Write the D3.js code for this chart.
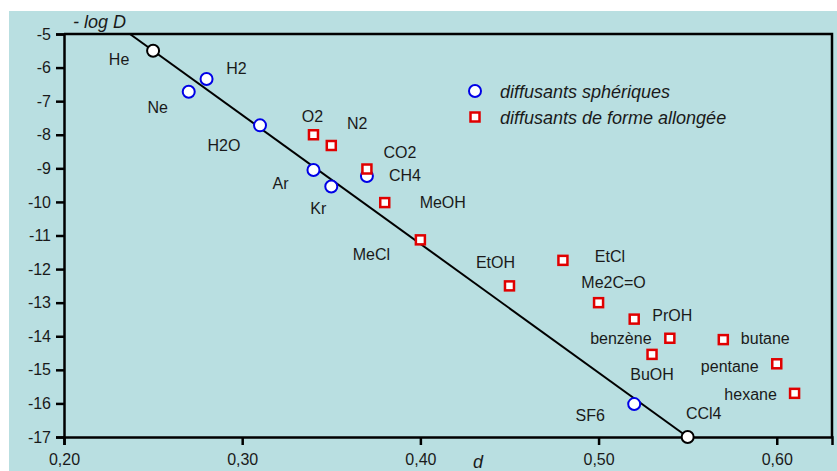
<!DOCTYPE html>
<html>
<head>
<meta charset="utf-8">
<script src="https://cdn.jsdelivr.net/npm/d3@7"></script>
<style>
  body { margin: 0; background: #fff; }
  text { font-family: "Liberation Sans", Arial, sans-serif; fill: #1a1a1a; }
</style>
</head>
<body>
<div id="chart"></div>
<script>
// spherical scatterers (blue circles)
var sphNames = ["H2", "Ne", "H2O", "Ar", "Kr", "CH4", "SF6"];
var sphD     = [0.28, 0.27, 0.31, 0.34, 0.35, 0.37, 0.52];
var sphLogD  = [-6.34, -6.72, -7.72, -9.05, -9.54, -9.23, -16.02];

// elongated scatterers (red squares)
var elNames = ["O2", "N2", "CO2", "MeOH", "MeCl", "EtOH", "EtCl", "Me2C=O", "PrOH",
               "benzène", "BuOH", "butane", "pentane", "hexane"];
var elD     = [0.34, 0.35, 0.37, 0.38, 0.40, 0.45, 0.48, 0.50, 0.52, 0.54, 0.53, 0.57, 0.60, 0.61];
var elLogD  = [-8.0, -8.32, -9.02, -10.02, -11.13, -12.5, -11.74, -13.0, -13.49,
               -14.06, -14.54, -14.1, -14.82, -15.7];

// reference points (black) and the straight line through them
var refNames = ["He", "CCl4"];
var refD     = [0.25, 0.55];
var refLogD  = [-5.5, -17];
var lineD    = [0.237, 0.55];
var lineLogD = [-5, -17];

var xTicks = [0.20, 0.30, 0.40, 0.50, 0.60];
var yTicks = [-5, -6, -7, -8, -9, -10, -11, -12, -13, -14, -15, -16, -17];

var legendLabels = ["diffusants sphériques", "diffusants de forme allongée"];

// label offsets in pixels from each mark (layout only)
var sphOff = [[30,-11],[-31,16],[-36,20],[-33,13],[-13,22],[38,-1],[-44,11]];
var elOff  = [[-1,-18],[26,-22],[33,-17],[58,0],[-49,15],[-14,-23],[47,-4],[15,-20],
              [38,-4],[-49,0],[0,20],[42,-1],[-47,3],[-44,1]];
var refOff = [[-34,9],[16,-24]];

var W = 837, H = 471;
var margin = {top: 34, right: 5, bottom: 34, left: 64};
var width = W - margin.left - margin.right,
    height = H - margin.top - margin.bottom;

var svg = d3.select("#chart").append("svg")
    .attr("width", W)
    .attr("height", H);

svg.append("rect")
    .attr("x", 9).attr("y", 11)
    .attr("width", W - 9).attr("height", H - 11)
    .attr("fill", "#b9dfe1");

var g = svg.append("g")
    .attr("transform", "translate(" + margin.left + "," + margin.top + ")");

var x = d3.scaleLinear().domain([0.2, 0.631]).range([0, width]);
var y = d3.scaleLinear().domain([-17, -5]).range([height, 0]);

// frame (top and right)
g.append("path")
    .attr("d", "M0,0H" + width + "V" + height)
    .attr("fill", "none")
    .attr("stroke", "#000")
    .attr("stroke-width", 2.5);

var xAxis = g.append("g")
    .attr("transform", "translate(0," + height + ")")
    .call(d3.axisBottom(x).tickValues(xTicks).tickSize(8).tickPadding(9)
        .tickFormat(function(d) { return d3.format(".2f")(d).replace(".", ","); }));

var yAxis = g.append("g")
    .call(d3.axisLeft(y).tickValues(yTicks).tickSize(8).tickPadding(5)
        .tickFormat(function(d) { return String(d); }));

[xAxis, yAxis].forEach(function(a) {
  a.select(".domain").attr("stroke", "#000").attr("stroke-width", 2.5);
  a.selectAll(".tick line").attr("stroke", "#000").attr("stroke-width", 2.5);
  a.selectAll(".tick text")
    .style("font-family", "'Liberation Sans', Arial, sans-serif")
    .style("font-size", "16px")
    .attr("fill", "#1a1a1a");
});

// axis titles
svg.append("text")
    .attr("x", 73).attr("y", 28)
    .style("font-size", "18px")
    .style("font-style", "italic")
    .text("- log D");

svg.append("text")
    .attr("x", 478).attr("y", 468)
    .attr("text-anchor", "middle")
    .style("font-size", "18px")
    .style("font-style", "italic")
    .text("d");

// fitted line
var line = d3.line()
    .x(function(d) { return x(d[0]); })
    .y(function(d) { return y(d[1]); });

g.append("path")
    .datum(d3.zip(lineD, lineLogD))
    .attr("d", line)
    .attr("fill", "none")
    .attr("stroke", "#000")
    .attr("stroke-width", 2);

function labels(names, ds, ls, off) {
  g.selectAll(null)
    .data(names)
    .enter().append("text")
    .attr("x", function(d, i) { return x(ds[i]) + off[i][0]; })
    .attr("y", function(d, i) { return y(ls[i]) + off[i][1]; })
    .attr("dy", "0.35em")
    .attr("text-anchor", "middle")
    .style("font-size", "16px")
    .text(function(d) { return d; });
}

// reference points
g.selectAll(null)
    .data(refD)
    .enter().append("circle")
    .attr("cx", function(d) { return x(d); })
    .attr("cy", function(d, i) { return y(refLogD[i]); })
    .attr("r", 6)
    .attr("fill", "#fff")
    .attr("stroke", "#000")
    .attr("stroke-width", 2);

// spherical
g.selectAll(null)
    .data(sphD)
    .enter().append("circle")
    .attr("cx", function(d) { return x(d); })
    .attr("cy", function(d, i) { return y(sphLogD[i]); })
    .attr("r", 6)
    .attr("fill", "#fff")
    .attr("stroke", "#0000e6")
    .attr("stroke-width", 2);

// elongated
g.selectAll(null)
    .data(elD)
    .enter().append("rect")
    .attr("x", function(d) { return x(d) - 4.5; })
    .attr("y", function(d, i) { return y(elLogD[i]) - 4.5; })
    .attr("width", 9)
    .attr("height", 9)
    .attr("fill", "#fff")
    .attr("stroke", "#e00000")
    .attr("stroke-width", 2.5);

labels(refNames, refD, refLogD, refOff);
labels(sphNames, sphD, sphLogD, sphOff);
labels(elNames, elD, elLogD, elOff);

// legend
var leg = svg.append("g");
leg.append("circle")
    .attr("cx", 475).attr("cy", 91).attr("r", 6)
    .attr("fill", "#fff").attr("stroke", "#0000e6").attr("stroke-width", 2);
leg.append("rect")
    .attr("x", 470.5).attr("y", 112.5).attr("width", 9).attr("height", 9)
    .attr("fill", "#fff").attr("stroke", "#e00000").attr("stroke-width", 2.5);
leg.selectAll("text")
    .data(legendLabels)
    .enter().append("text")
    .attr("x", 500)
    .attr("y", function(d, i) { return 92 + i * 26; })
    .attr("dy", "0.35em")
    .style("font-size", "18px")
    .style("font-style", "italic")
    .text(function(d) { return d; });
</script>
</body>
</html>
